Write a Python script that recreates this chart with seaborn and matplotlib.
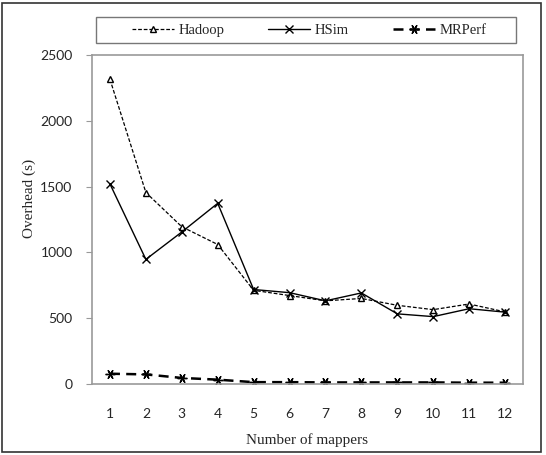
import numpy as np
import pandas as pd
import seaborn as sns
import matplotlib.pyplot as plt
from matplotlib.patches import Rectangle

# data
mappers = [1, 2, 3, 4, 5, 6, 7, 8, 9, 10, 11, 12]
hadoop = [2315, 1455, 1195, 1060, 712, 672, 632, 650, 598, 565, 608, 548]
hsim = [1520, 947, 1155, 1373, 718, 694, 632, 692, 533, 512, 572, 546]
mrperf = [78, 73, 46, 33, 14, 14, 12, 12, 12, 12, 10, 10]

sns.set_style('white')
plt.rcParams['font.family'] = ['Liberation Serif', 'DejaVu Serif']

fig = plt.figure(figsize=(5.46, 4.55), dpi=100)
ax = fig.add_axes([92/546, 1-384/455, (523-92)/546, (384-55)/455])

df = pd.DataFrame({'x': mappers, 'Hadoop': hadoop, 'HSim': hsim, 'MRPerf': mrperf})

sns.lineplot(data=df, x='x', y='Hadoop', ax=ax, color='black', lw=0.9,
             marker='^', markersize=5, markerfacecolor='white', markeredgecolor='black',
             markeredgewidth=1, label='Hadoop')
ax.lines[-1].set_dashes((3, 1.5))
sns.lineplot(data=df, x='x', y='HSim', ax=ax, color='black', lw=1.0,
             marker='x', markersize=6, markeredgewidth=1, markeredgecolor='black',
             label='HSim')
sns.lineplot(data=df, x='x', y='MRPerf', ax=ax, color='black', lw=1.8,
             marker=(6, 2, 90), markersize=7, markeredgewidth=1, markeredgecolor='black',
             label='MRPerf')
ax.lines[-1].set_dashes((4, 2.5))

ax.set_xlim(0.5, 12.5)
ax.set_ylim(0, 2500)
ax.set_xticks(mappers)
ax.set_yticks([0, 500, 1000, 1500, 2000, 2500])
for lab in ax.get_xticklabels() + ax.get_yticklabels():
    lab.set_family('Lato')
    lab.set_fontsize(10)
ax.tick_params(axis='y', length=4, color='#999999', left=True, pad=10)
ax.tick_params(axis='x', length=0, pad=17)
for s in ax.spines.values():
    s.set_color('#9a9a9a')
    s.set_linewidth(1.2)

ax.set_xlabel('Number of mappers', fontsize=11, labelpad=10)
ax.set_ylabel('Overhead (s)', fontsize=11, va='center')
ax.yaxis.set_label_coords((29-92)/431, (384-198)/329)

h, l = ax.get_legend_handles_labels()
ax.get_legend().remove()
leg = fig.legend(h, l, loc='center', ncol=3, bbox_to_anchor=(309/546, 1-30/455),
                 fontsize=10.5, frameon=False, handlelength=2.9,
                 handletextpad=0.3, columnspacing=3.0, borderaxespad=0)

# legend box
fig.patches.append(Rectangle((96/546, 1-43/455), 420/546, 26/455, transform=fig.transFigure,
                             fill=False, edgecolor='#777777', lw=1.0))
# outer border
fig.patches.append(Rectangle((2/546, 3/455), 539/546, 449/455, transform=fig.transFigure,
                             fill=False, edgecolor='#333333', lw=1.2))

fig.savefig('out.png', dpi=100)
